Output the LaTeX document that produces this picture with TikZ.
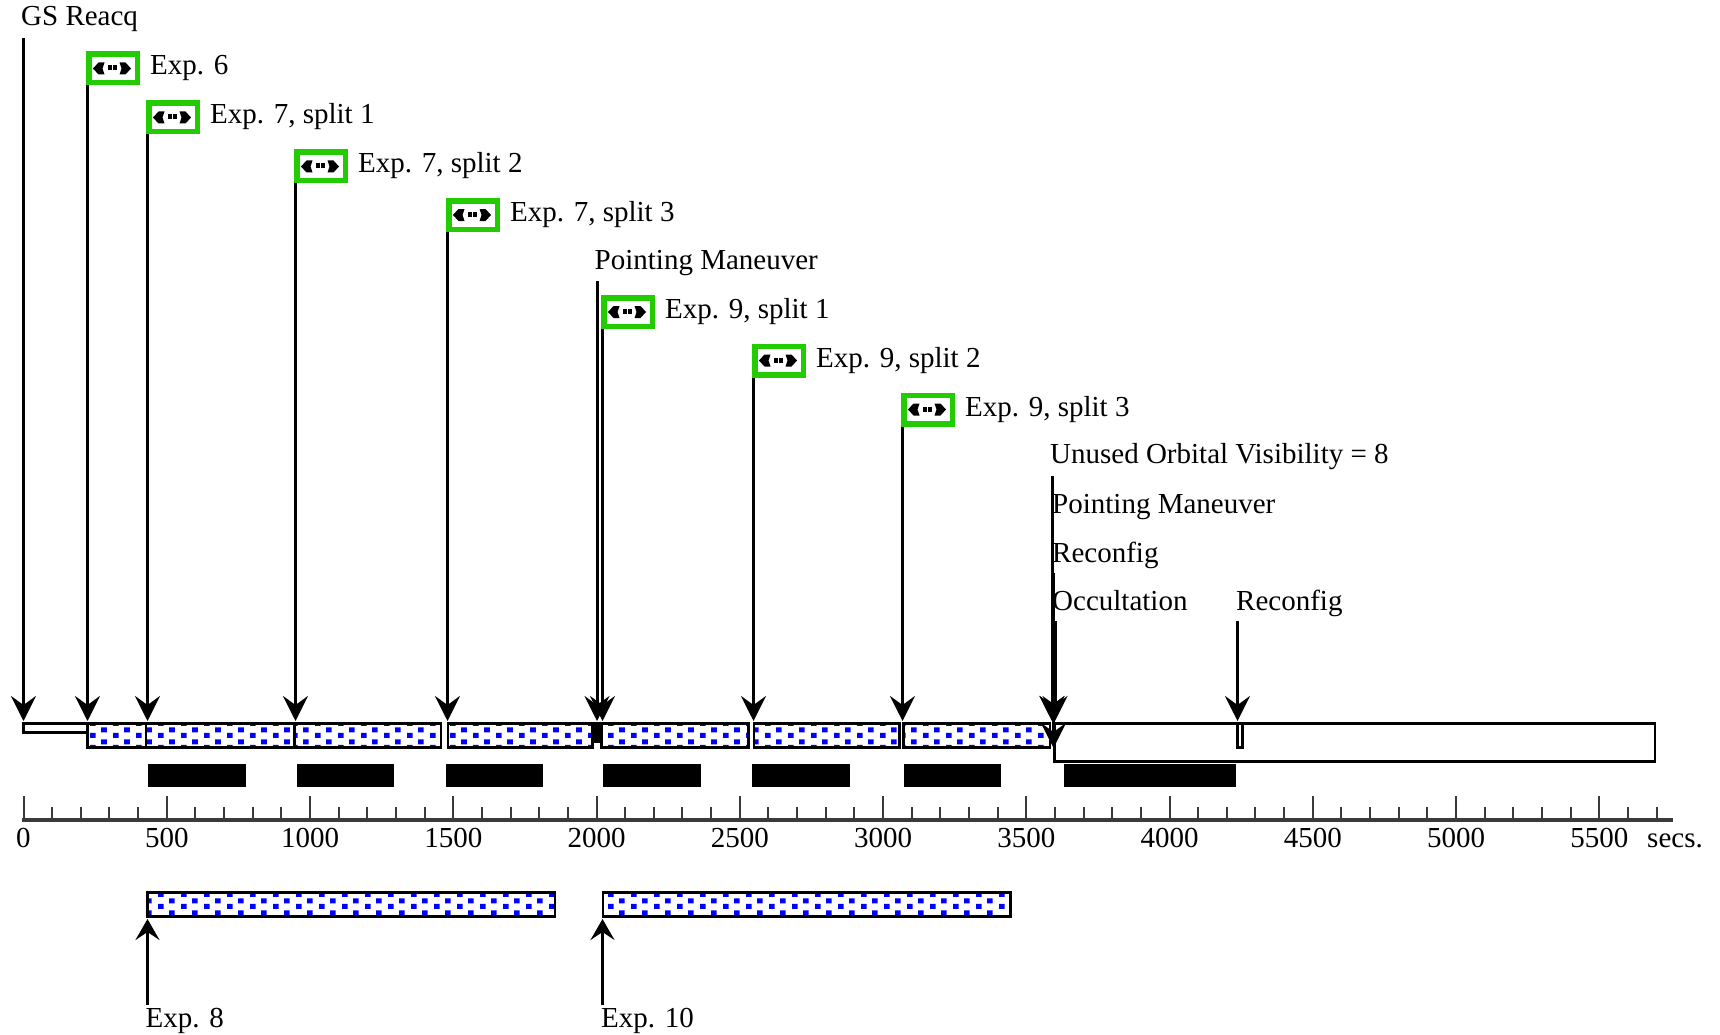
\documentclass[tikz,border=0pt]{standalone}
\usepackage{fontspec}
\setmainfont{Liberation Serif}
\usetikzlibrary{arrows.meta,patterns}
\definecolor{boxgreen}{RGB}{34,204,0}
\definecolor{axgray}{RGB}{58,58,58}
\pgfdeclarepatternformonly{bluesq}{\pgfqpoint{0pt}{0pt}}{\pgfqpoint{22.5pt}{11.4pt}}{\pgfqpoint{22.5pt}{11.4pt}}{%
  \pgfpathrectangle{\pgfqpoint{0pt}{0pt}}{\pgfqpoint{5.8pt}{5.2pt}}%
  \pgfpathrectangle{\pgfqpoint{11.25pt}{5.7pt}}{\pgfqpoint{5.8pt}{5.2pt}}%
  \pgfusepath{fill}}
\newcommand\myExpBox[4]{%
  \coordinate (#1tip) at (#2,721);
  \coordinate (#1top) at (#2,{#3+17});
  \draw[evline] (#1top) -- (#1tip);
  \node[gbox] (#1) at ({#2-1.5+27},#3) {};
  \begin{scope}[shift={({#2-1.5},#3)}]
    \fill (7,0) -- (12.5,-6) -- (18.5,-6) -- (16.5,0) -- (18.5,6) -- (12.5,6) -- cycle;
    \fill (45,0) -- (39.5,-6) -- (33.5,-6) -- (35.5,0) -- (33.5,6) -- (39.5,6) -- cycle;
    \fill (22,-3) rectangle (25.5,2);
    \fill (27,-3) rectangle (30.5,2);
  \end{scope}
  \node[lbl] (#1t) at ({#2-1.5+64},{#3+6.5}) {#4};
}
\begin{document}
\begin{tikzpicture}[x=1pt,y=-1pt, font=\fontsize{29}{34}\selectfont,
  lbl/.style={inner sep=0pt, anchor=base west},
  gbox/.style={draw=boxgreen, line width=5.5pt, minimum width=48.5pt, minimum height=28.5pt, inner sep=0pt, fill=white},
  evline/.style={line width=3pt, -{Stealth[length=25pt,width=25pt,inset=9pt]}},
  upline/.style={line width=3pt, -{Stealth[length=21pt,width=24pt,inset=8pt]}},
  patbar/.style={draw, line width=2.8pt, pattern=bluesq, pattern color=blue},
  wbar/.style={draw, line width=2.8pt, fill=white},
  blk/.style={fill=black},
  tick/.style={draw=axgray, line width=2pt},
]
\fill[white] (0,0) rectangle (1720,1035);
\useasboundingbox (0,0) rectangle (1720,1035);

% ---- timeline bars ----
\draw[wbar] (23.5,723.4) rectangle (87.4,732.6);
\draw[patbar] (87.4,723.4) rectangle (146,747.6);
\draw[patbar] (146,723.4) rectangle (294.5,747.6);
\draw[patbar] (294.5,723.4) rectangle (441,747.6);
\draw[patbar] (448,723.4) rectangle (592.5,747.6);
\fill (593,722) rectangle (602,743);
\draw[patbar] (601.5,723.4) rectangle (748.5,747.6);
\draw[patbar] (754,723.4) rectangle (899.5,747.6);
\draw[patbar] (903.5,723.4) rectangle (1050,747.6);
\draw[wbar] (1054.5,723.4) rectangle (1655,761.6);
\draw[wbar] (1237.4,723.4) rectangle (1242.6,747.6);

% ---- black bars ----
\fill[blk] (148,764) rectangle (246,787);
\fill[blk] (297,764) rectangle (394,787);
\fill[blk] (446,764) rectangle (543,787);
\fill[blk] (603,764) rectangle (701,787);
\fill[blk] (752,764) rectangle (850,787);
\fill[blk] (904,764) rectangle (1001,787);
\fill[blk] (1064,764) rectangle (1236,787);

% ---- plain events ----
\node[lbl] (gs) at (21,26) {GS Reacq};
\coordinate (gstop) at (23.5,38);
\coordinate (gstip) at (23.5,721);
\draw[evline] (gstop) -- (gstip);

\node[lbl] (pm1) at (594.5,269) {Pointing Maneuver};
\coordinate (pm1top) at (597,281);
\coordinate (pm1tip) at (597,721);
\draw[evline] (pm1top) -- (pm1tip);

\node[lbl] (unused) at (1050,463) {Unused Orbital Visibility = 8};
\coordinate (untop) at (1052,476);
\coordinate (untip) at (1052,721);
\draw[evline] (untop) -- (untip);

\node[lbl] (pm2) at (1052,513) {Pointing Maneuver};
\coordinate (pm2top) at (1052,524);
\coordinate (pm2tip) at (1052,721);
\draw[evline] (pm2top) -- (pm2tip);

\node[lbl] (rc1) at (1052,562) {Reconfig};
\coordinate (rc1top) at (1053.5,573);
\coordinate (rc1tip) at (1053.5,748);
\draw[evline] (rc1top) -- (rc1tip);

\node[lbl] (occ) at (1052,610) {Occultation};
\coordinate (occtop) at (1055,621);
\coordinate (occtip) at (1055,721);
\draw[evline] (occtop) -- (occtip);

\node[lbl] (rc2) at (1236,610) {Reconfig};
\coordinate (rc2top) at (1237.5,621);
\coordinate (rc2tip) at (1237.5,721);
\draw[evline] (rc2top) -- (rc2tip);

% ---- exposures with green boxes ----
\myExpBox{ea}{87.5}{68.5}{Exp. 6}
\myExpBox{eb}{147.5}{117.5}{Exp. 7, split 1}
\myExpBox{ec}{295.5}{166.5}{Exp. 7, split 2}
\myExpBox{ed}{447.5}{215}{Exp. 7, split 3}
\myExpBox{ee}{602.5}{312}{Exp. 9, split 1}
\myExpBox{ef}{753.5}{360.5}{Exp. 9, split 2}
\myExpBox{eg}{902.5}{409.5}{Exp. 9, split 3}

% ---- axis ----
\draw[axgray, line width=3.2pt] (22,820) -- (1673,820);
\foreach \t in {0,100,...,5700} {
  \draw[tick] ({23.5+0.2865*\t},821) -- ++(0,-14);
}
\foreach \t in {0,500,...,5500} {
  \draw[tick] ({23.5+0.2865*\t},821) -- ++(0,-25);
  \node[inner sep=0pt, anchor=base] (lab\t) at ({23.5+0.2865*\t},847) {\t};
}
\node[lbl] (secs) at (1647,847) {secs.};

% ---- lower exposures ----
\draw[patbar] (147.4,892.4) rectangle (555,916.6);
\draw[patbar] (603,892.4) rectangle (1010.6,916.6);
\node[lbl] (e8t) at (145.5,1027) {Exp. 8};
\coordinate (e8top) at (147.5,1005);
\coordinate (e8tip) at (147.5,919);
\draw[upline] (e8top) -- (e8tip);
\node[lbl] (e10t) at (601,1027) {Exp. 10};
\coordinate (e10top) at (602.5,1005);
\coordinate (e10tip) at (602.5,919);
\draw[upline] (e10top) -- (e10tip);
\end{tikzpicture}
\end{document}
